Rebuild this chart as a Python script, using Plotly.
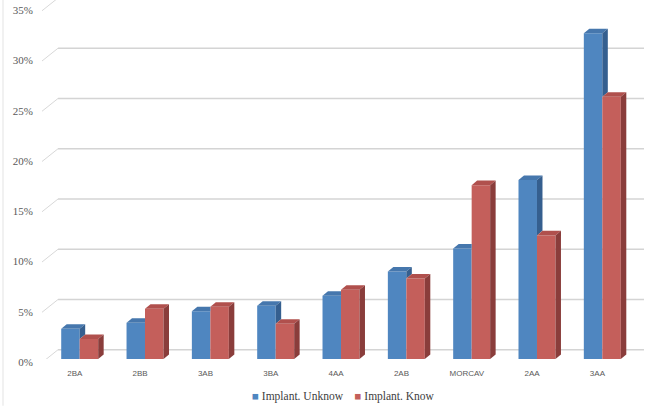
import plotly.graph_objects as go

categories = ["2BA", "2BB", "3AB", "3BA", "4AA", "2AB", "MORCAV", "2AA", "3AA"]
unknown = [0.030, 0.036, 0.0475, 0.053, 0.063, 0.087, 0.110, 0.178, 0.324]
known = [0.020, 0.050, 0.052, 0.035, 0.069, 0.080, 0.173, 0.123, 0.261]
y_ticks = [0.0, 0.05, 0.10, 0.15, 0.20, 0.25, 0.30, 0.35]
series_names = ["Implant. Unknow", "Implant. Know"]

BLUE_FRONT, BLUE_TOP, BLUE_SIDE = "#4F86C0", "#4677AD", "#355F8F"
RED_FRONT, RED_TOP, RED_SIDE = "#C45F5B", "#B0504D", "#8A3D3B"

W = 0.283       # bar width (category units)
DX = 0.084      # depth offset in x (category units)
DY = 0.0045     # depth offset in y (value units)
X_LO, X_HI = -0.577, 8.638
Y_HI = 0.3572

xs = list(range(len(categories)))
fig = go.Figure()

# front faces
fig.add_trace(go.Bar(x=xs, y=unknown, width=W, offset=-W, name=series_names[0],
                     marker=dict(color=BLUE_FRONT, line=dict(width=0)), hoverinfo="skip"))
fig.add_trace(go.Bar(x=xs, y=known, width=W, offset=0, name=series_names[1],
                     marker=dict(color=RED_FRONT, line=dict(width=0)), hoverinfo="skip"))


def poly(px, py, color):
    fig.add_trace(go.Scatter(x=px + [px[0]], y=py + [py[0]], mode="lines", fill="toself",
                             fillcolor=color, line=dict(width=0, color=color),
                             showlegend=False, hoverinfo="skip"))


for i, (b, r) in enumerate(zip(unknown, known)):
    x0, x1, x2 = i - W, i, i + W
    # blue top face (clipped where red front hides it)
    if r <= b:
        poly([x0, x0 + DX, x1 + DX, x1], [b, b + DY, b + DY, b], BLUE_TOP)
    elif r >= b + DY:
        poly([x0, x0 + DX, x1, x1], [b, b + DY, b + DY, b], BLUE_TOP)
    else:
        xi = x1 + DX * (r - b) / DY
        poly([x0, x0 + DX, x1 + DX, xi, x1, x1], [b, b + DY, b + DY, r, r, b], BLUE_TOP)
    # blue side visible above red
    if b > r:
        poly([x1, x1 + DX, x1 + DX, x1], [r, r + DY, b + DY, b], BLUE_SIDE)
    # red top and side
    poly([x1, x1 + DX, x2 + DX, x2], [r, r + DY, r + DY, r], RED_TOP)
    poly([x2, x2 + DX, x2 + DX, x2], [0, DY, r + DY, r], RED_SIDE)

# back-wall gridlines with perspective connectors
WALL_DY = 0.0092
LABEL_DY = -0.0035
WALL_X = -0.332
shapes = []
for v in y_ticks:
    shapes.append(dict(type="line", xref="x", yref="y", layer="below",
                       x0=X_LO, y0=v + LABEL_DY, x1=WALL_X, y1=v + WALL_DY,
                       line=dict(color="#D8D8D8", width=1)))
    shapes.append(dict(type="line", xref="x", yref="y", layer="below",
                       x0=WALL_X, y0=v + WALL_DY, x1=X_HI, y1=v + WALL_DY,
                       line=dict(color="#D4D4D4", width=1.5)))
# faint frame line at the left edge of the picture
shapes.append(dict(type="line", xref="paper", yref="paper", layer="below",
                   x0=-0.0648, x1=-0.0648, y0=-0.13, y1=1.0,
                   line=dict(color="#EDEDED", width=1.5)))

legend_text = ("<span style='color:%s'>■</span> %s&nbsp;&nbsp;&nbsp;&nbsp;"
               "<span style='color:%s'>■</span> %s") % (BLUE_FRONT, series_names[0],
                                                        RED_FRONT, series_names[1])

fig.update_layout(
    width=649, height=407,
    margin=dict(l=42, r=5, t=0, b=48, autoexpand=False),
    paper_bgcolor="white", plot_bgcolor="white",
    barmode="overlay",
    shapes=shapes,
    showlegend=False,
    annotations=[dict(text=legend_text, xref="paper", yref="paper",
                      x=0.5, xanchor="center", y=-0.105, yanchor="middle",
                      showarrow=False,
                      font=dict(family="Liberation Serif", size=11.5, color="#404040"))],
    xaxis=dict(range=[X_LO, X_HI], tickvals=[i - 0.075 for i in xs], ticktext=categories,
               showgrid=False, zeroline=False, showline=False, ticks="", automargin=False,
               tickfont=dict(family="Liberation Sans", size=8, color="#595959"),
               ticklabelstandoff=8),
    yaxis=dict(range=[0, Y_HI], tickvals=y_ticks, tickformat=".0%", automargin=False,
               showgrid=False, zeroline=False, showline=False, ticks="",
               tickfont=dict(family="Liberation Serif", size=11, color="#595959"),
               ticklabelstandoff=8, ticklabelshift=3),
)

fig.write_html("out.html")
